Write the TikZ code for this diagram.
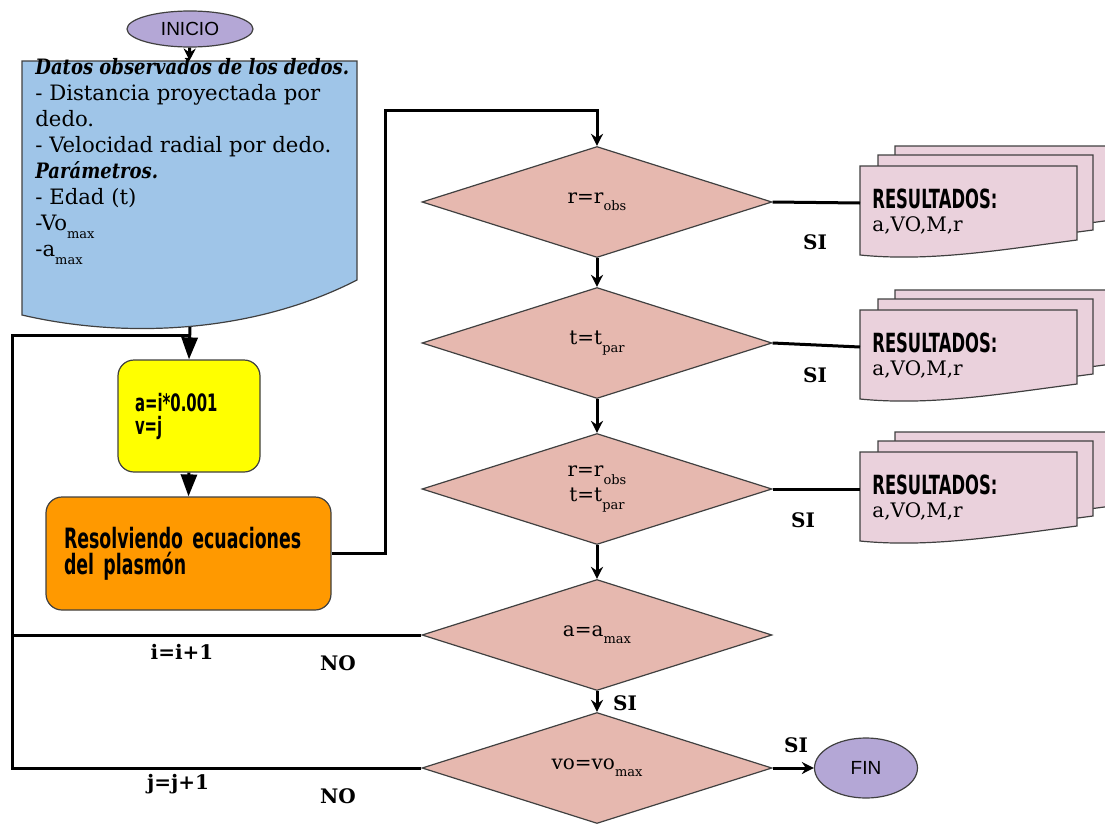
\documentclass[tikz,border=0pt]{standalone}
\usepackage{fontspec}
\setmainfont{DejaVu Serif}
\newfontfamily\arialfont{Liberation Sans}
\newfontfamily\condfont[FakeStretch=0.62]{DejaVu Sans}
\newfontfamily\titfont[FakeStretch=0.85]{DejaVu Serif}
\usepackage{xcolor}
\usepackage{tikz}
\usetikzlibrary{shapes.geometric, arrows.meta}

\definecolor{lila}{HTML}{B4A7D6}
\definecolor{azul}{HTML}{9FC5E8}
\definecolor{amarillo}{HTML}{FFFF00}
\definecolor{naranja}{HTML}{FF9900}
\definecolor{rombo}{HTML}{E6B8AF}
\definecolor{rosa}{HTML}{EAD1DC}

\newcommand{\dsub}[1]{\raisebox{-0.7ex}{\fontsize{6.5}{7}\selectfont #1}}

\begin{document}
\begin{tikzpicture}[x=0.5pt, y=-0.5pt,
    linea/.style={line width=1.5pt},
    flecha/.style={line width=1.5pt, -{Stealth[length=6pt, width=6pt]}},
    flechota/.style={line width=1.5pt, -{Triangle[length=11pt, width=8pt]}},
    borde/.style={draw=black!75, line width=0.6pt},
    terminal/.style={ellipse, borde, fill=lila, inner sep=0pt, font=\arialfont\fontsize{9.5}{11}\selectfont},
    decision/.style={diamond, borde, fill=rombo, minimum width=175pt, minimum height=55.5pt, inner sep=0pt, align=center, font=\fontsize{10}{12.5}\selectfont},
    proceso/.style={rectangle, rounded corners=8pt, borde, align=left, font=\condfont\bfseries\fontsize{12}{11.5}\selectfont},
    hoja/.style={borde, fill=rosa},
    etiqueta/.style={font=\bfseries\fontsize{10}{12}\selectfont}]
    \useasboundingbox (0,0) rectangle (1105,825);

    % 1. Inicio y datos de entrada
    \node[terminal, minimum width=63pt, minimum height=18pt] (inicio) at (190,29) {INICIO};
    \node[minimum width=167.5pt, minimum height=127pt] (datos) at (189.5,188) {};
    \draw[borde, fill=azul] (22,61) -- (357,61) -- (357,280)
        .. controls (250,335) and (120,338) .. (22,315) -- cycle;
    \node[anchor=north west, align=left, inner sep=0pt, font=\fontsize{10.6}{13}\selectfont] (datos-txt) at (35,58)
        {{\titfont\bfseries\itshape Datos observados de los dedos.}\\
         - Distancia proyectada por\\
         dedo.\\
         - Velocidad radial por dedo.\\
         {\titfont\bfseries\itshape Parámetros.}\\
         - Edad (t)\\
         -Vo\dsub{max}\\
         -a\dsub{max}};
    \coordinate (datos-fondo) at (190,327);
    \coordinate (union) at (190,335);
    \draw[flecha] (inicio) -- (datos.north);

    % 2. Bloques de proceso
    \node[proceso, fill=amarillo, minimum width=71pt, minimum height=56pt, text width=54pt, inner xsep=8.5pt] (asignar) at (189,416) {a=i*0.001\\v=j};
    \node[proceso, fill=naranja, minimum width=142.5pt, minimum height=56.5pt, text width=124.5pt, inner xsep=9pt,
          font=\condfont\bfseries\fontsize{14}{13}\selectfont] (resolver) at (188.5,553.5) {Resolviendo ecuaciones\\del plasmón};
    \draw[flechota] (datos-fondo) -- (asignar.north);
    \draw[flechota] (asignar.south) -- (resolver.north);

    % 3. Rombos de decision
    \node[decision] (d1) at (597,202) {r=r\dsub{obs}};
    \node[decision] (d2) at (597,343) {t=t\dsub{par}};
    \node[decision] (d3) at (597,489) {r=r\dsub{obs}\\t=t\dsub{par}};
    \node[decision] (d4) at (597,635) {a=a\dsub{max}};
    \node[decision] (d5) at (597,768) {vo=vo\dsub{max}};
    \coordinate (subida) at (385,110);
    \draw[flecha] (resolver.east) -| (subida) -| (d1.north);
    \draw[flecha] (d1.south) -- (d2.north);
    \draw[flecha] (d2.south) -- (d3.north);
    \draw[flecha] (d3.south) -- (d4.north);
    \draw[flecha] (d4.south) -- (d5.north);

    % 4. Hojas de resultados (tres hojas apiladas)
    \foreach \yy/\nm in {166/res1, 310/res2, 452/res3} {
        \draw[hoja] (895,\yy-20) -- (1112,\yy-20) -- (1112,\yy+54)
            .. controls (1035,\yy+64) and (965,\yy+76) .. (895,\yy+69) -- cycle;
        \draw[hoja] (878,\yy-11) -- (1093,\yy-11) -- (1093,\yy+64)
            .. controls (1016,\yy+74) and (948,\yy+86) .. (878,\yy+79) -- cycle;
        \draw[hoja] (860,\yy) -- (1077,\yy) -- (1077,\yy+74)
            .. controls (1000,\yy+84) and (930,\yy+96) .. (860,\yy+89) -- cycle;
        \node[anchor=north west, align=left, inner sep=0pt, font=\fontsize{10}{11.5}\selectfont] (\nm-txt) at (872,\yy+23)
            {{\condfont\bfseries\fontsize{13.2}{12}\selectfont RESULTADOS:}\\a,VO,M,r};
        \coordinate (\nm) at (860,\yy+37);
    }
    \draw[linea] (d1.east) -- (res1);
    \draw[linea] (d2.east) -- (res2);
    \draw[linea] (d3.east) -- (res3);

    % 5. Fin
    \node[terminal, minimum width=51.5pt, minimum height=30pt] (fin) at (866,768) {FIN};
    \draw[flecha] (d5.east) -- (fin.west);

    % 6. Lazos de regreso (i y j)
    \coordinate (retorno) at (12,635);
    \draw[linea] (d4.west) -- (retorno) |- (union);
    \draw[linea] (d5.west) -| (retorno);

    % 7. Etiquetas
    \node[etiqueta] (si1) at (815,242) {SI};
    \node[etiqueta] (si2) at (815,375) {SI};
    \node[etiqueta] (si3) at (803,520) {SI};
    \node[etiqueta] (si4) at (625,703) {SI};
    \node[etiqueta] (si5) at (796,745) {SI};
    \node[etiqueta] (no1) at (338,663) {NO};
    \node[etiqueta] (no2) at (338,796) {NO};
    \node[etiqueta] (inc-i) at (182,652) {i=i+1};
    \node[etiqueta] (inc-j) at (178,784) {j=j+1};
\end{tikzpicture}
\end{document}
